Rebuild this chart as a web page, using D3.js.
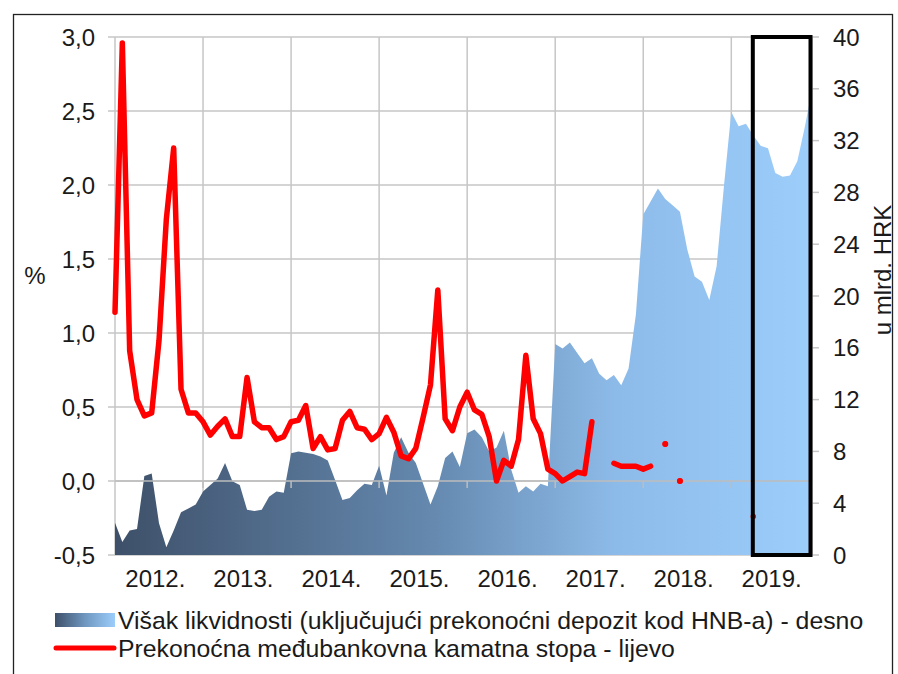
<!DOCTYPE html>
<html>
<head>
<meta charset="utf-8">
<script src="https://cdn.jsdelivr.net/npm/d3@7"></script>
<style>
  html, body { margin: 0; padding: 0; background: #fff; }
  svg { display: block; }
  text { font-family: "Liberation Sans", Arial, sans-serif; fill: #1a1a1a; }
</style>
</head>
<body>
<svg id="chart" width="898" height="674"></svg>
<script>
// ---- data ----
const years = ["2012.", "2013.", "2014.", "2015.", "2016.", "2017.", "2018.", "2019."];
const leftTicks = [-0.5, 0, 0.5, 1.0, 1.5, 2.0, 2.5, 3.0];
const rightTicks = [0, 4, 8, 12, 16, 20, 24, 28, 32, 36, 40];

// monthly excess liquidity, bn HRK (right axis), Jan 2012 - Dec 2019
const liquidity = [
  2.5, 1.0, 1.9, 2.0, 6.1, 6.3, 2.45, 0.6, 1.9, 3.3, 3.6, 3.9,
  4.9, 5.4, 5.9, 7.1, 5.7, 5.4, 3.5, 3.4, 3.5, 4.5, 4.9, 4.8,
  7.85, 8.0, 7.9, 7.8, 7.6, 7.3, 5.8, 4.25, 4.4, 5.0, 5.5, 5.4,
  6.9, 4.6, 7.9, 9.1, 7.9, 7.1, 5.5, 3.9, 5.3, 7.5, 8.0, 6.8,
  9.4, 9.7, 9.1, 8.0, 8.3, 9.6, 6.6, 4.8, 5.3, 4.9, 5.5, 5.3,
  16.3, 15.95, 16.4, 15.6, 14.8, 15.2, 14.0, 13.5, 13.9, 13.1, 14.4, 18.6,
  26.3, 27.3, 28.3, 27.5, 27.0, 26.5, 23.6, 21.5, 21.1, 19.7, 22.3, 28.5,
  34.2, 33.1, 33.3, 32.4, 31.6, 31.4, 29.5, 29.2, 29.3, 30.4, 33.0, 35.9
];

// monthly overnight interbank rate, % (left axis); null = no trading
const rate = [
  1.14, 2.96, 0.88, 0.55, 0.44, 0.46, 0.95, 1.77, 2.25, 0.62, 0.46, 0.46,
  0.40, 0.31, 0.37, 0.42, 0.30, 0.30, 0.70, 0.40, 0.36, 0.36, 0.28, 0.30,
  0.40, 0.41, 0.51, 0.22, 0.30, 0.21, 0.22, 0.41, 0.47, 0.36, 0.35, 0.28,
  0.32, 0.43, 0.33, 0.17, 0.15, 0.22, 0.43, 0.65, 1.29, 0.42, 0.34, 0.50,
  0.60, 0.48, 0.45, 0.30, 0.00, 0.14, 0.10, 0.28, 0.85, 0.42, 0.32, 0.08,
  0.05, 0.00, 0.03, 0.06, 0.05, 0.40, null, null, 0.12, 0.10, 0.10, 0.10,
  0.08, 0.10, null, 0.25, null, 0.00, null, null, null, null, null, null,
  null, null, null, -0.24, null, null, null, null, null, null, null, null
];

const highlightStart = 87; // Apr 2019 (month index)
const legendLabels = [
  "Višak likvidnosti (uključujući prekonoćni depozit kod HNB-a) - desno",
  "Prekonoćna međubankovna kamatna stopa - lijevo"
];

// ---- layout ----
const svg = d3.select("#chart");
const L = 115, R = 812, T = 37, B = 555;
const nMonths = liquidity.length;
const FS = 24;

const x = d3.scaleLinear().domain([0, nMonths - 1]).range([L, R]);
const yL = d3.scaleLinear().domain([-0.5, 3]).range([B, T]);
const yR = d3.scaleLinear().domain([0, 40]).range([B, T]);

// outer frame
svg.append("rect").attr("x", 13.5).attr("y", 14.5).attr("width", 879).attr("height", 700)
  .attr("fill", "none").attr("stroke", "#222").attr("stroke-width", 1.3);

// gradient
const defs = svg.append("defs");
const grad = defs.append("linearGradient").attr("id", "liqGrad")
  .attr("gradientUnits", "userSpaceOnUse").attr("x1", L).attr("x2", R).attr("y1", 0).attr("y2", 0);
grad.append("stop").attr("offset", "0").attr("stop-color", "#3e5069");
grad.append("stop").attr("offset", "0.45").attr("stop-color", "#6488ae");
grad.append("stop").attr("offset", "0.72").attr("stop-color", "#8dbbe9");
grad.append("stop").attr("offset", "1").attr("stop-color", "#9ccdfb");
const lgrad = defs.append("linearGradient").attr("id", "legGrad")
  .attr("x1", "0").attr("x2", "1").attr("y1", "0").attr("y2", "0");
lgrad.append("stop").attr("offset", "0").attr("stop-color", "#3e5069");
lgrad.append("stop").attr("offset", "0.5").attr("stop-color", "#6f97c0");
lgrad.append("stop").attr("offset", "1").attr("stop-color", "#9ccdfb");

const gridColor = "#c6c6c6";

// horizontal gridlines (with outward ticks on left)
svg.append("g").selectAll("line").data(leftTicks).join("line")
  .attr("x1", L - 7).attr("x2", R).attr("y1", d => yL(d)).attr("y2", d => yL(d))
  .attr("stroke", gridColor).attr("stroke-width", 1.5);

// vertical gridlines at year starts
svg.append("g").selectAll("line").data(years).join("line")
  .attr("x1", (d, i) => x(i * 12)).attr("x2", (d, i) => x(i * 12))
  .attr("y1", T).attr("y2", B)
  .attr("stroke", gridColor).attr("stroke-width", 1.5);

// area
const area = d3.area().x((d, i) => x(i)).y0(yR(0)).y1(d => yR(d));
svg.append("path").datum(liquidity).attr("d", area).attr("fill", "url(#liqGrad)");

// zero axis line with ticks
svg.append("line").attr("x1", L).attr("x2", R).attr("y1", yL(0)).attr("y2", yL(0))
  .attr("stroke", "#bdbdbd").attr("stroke-width", 1.5);
svg.append("g").selectAll("line").data(years.slice(1)).join("line")
  .attr("x1", (d, i) => x((i + 1) * 12)).attr("x2", (d, i) => x((i + 1) * 12))
  .attr("y1", yL(0)).attr("y2", yL(0) + 7)
  .attr("stroke", "#bdbdbd").attr("stroke-width", 1.5);

// right axis line + ticks
svg.append("line").attr("x1", R).attr("x2", R).attr("y1", T).attr("y2", B)
  .attr("stroke", gridColor).attr("stroke-width", 1.5);
svg.append("g").selectAll("line").data(rightTicks).join("line")
  .attr("x1", R).attr("x2", R + 7).attr("y1", d => yR(d)).attr("y2", d => yR(d))
  .attr("stroke", gridColor).attr("stroke-width", 1.5);

// red line
const line = d3.line().defined(d => d !== null).x((d, i) => x(i)).y(d => yL(d));
svg.append("path").datum(rate).attr("d", line)
  .attr("fill", "none").attr("stroke", "#ff0000").attr("stroke-width", 5.5)
  .attr("stroke-linejoin", "round").attr("stroke-linecap", "round");
// isolated points
const isolated = rate.map((v, i) => ({ v, i }))
  .filter(d => d.v !== null && (d.i === 0 || rate[d.i - 1] === null) && (d.i === rate.length - 1 || rate[d.i + 1] === null));
svg.append("g").selectAll("circle").data(isolated).join("circle")
  .attr("cx", d => x(d.i)).attr("cy", d => yL(d.v)).attr("r", d => d.i >= highlightStart ? 1.8 : 3)
  .attr("fill", "#ff0000");

// highlight rectangle
svg.append("rect").attr("x", x(highlightStart) - 0.5).attr("y", T)
  .attr("width", R - x(highlightStart) - 1).attr("height", B - T)
  .attr("fill", "none").attr("stroke", "#000").attr("stroke-width", 4);

// left tick labels
svg.append("g").selectAll("text").data(leftTicks).join("text")
  .attr("x", 95).attr("y", d => yL(d)).attr("dy", "0.36em")
  .attr("text-anchor", "end").attr("font-size", FS)
  .text(d => d3.format(".1f")(d).replace(".", ",").replace("−", "-"));

// right tick labels
svg.append("g").selectAll("text").data(rightTicks).join("text")
  .attr("x", 833).attr("y", d => yR(d)).attr("dy", "0.36em")
  .attr("text-anchor", "start").attr("font-size", FS)
  .text(d => d);

// year labels
svg.append("g").selectAll("text").data(years).join("text")
  .attr("x", (d, i) => x(i * 12 + 5.5)).attr("y", 578).attr("dy", "0.36em")
  .attr("text-anchor", "middle").attr("font-size", FS)
  .text(d => d);

// axis titles
svg.append("text").attr("x", 35).attr("y", 275).attr("dy", "0.36em")
  .attr("text-anchor", "middle").attr("font-size", FS).text("%");
svg.append("text").attr("transform", "translate(882,270) rotate(-90)").attr("dy", "0.36em")
  .attr("text-anchor", "middle").attr("font-size", FS).text("u mlrd. HRK");

// legend
const lg = svg.append("g");
lg.append("rect").attr("x", 55).attr("y", 613).attr("width", 60).attr("height", 14).attr("fill", "url(#legGrad)");
lg.append("line").attr("x1", 56).attr("x2", 114).attr("y1", 648).attr("y2", 648)
  .attr("stroke", "#ff0000").attr("stroke-width", 5).attr("stroke-linecap", "round");
lg.selectAll("text").data(legendLabels).join("text")
  .attr("x", 118).attr("y", (d, i) => 620 + i * 28).attr("dy", "0.36em")
  .attr("font-size", 24.8).text(d => d);
</script>
</body>
</html>
